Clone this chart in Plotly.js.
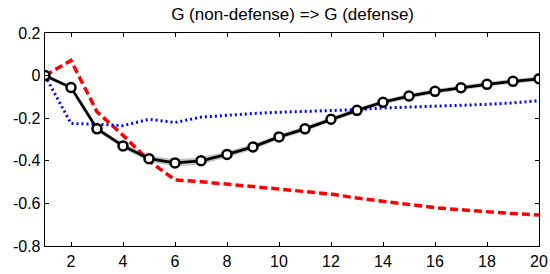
<!DOCTYPE html>
<html><head><meta charset="utf-8">
<script src="https://cdn.plot.ly/plotly-3.0.1.min.js"></script>
<style>html,body{margin:0;padding:0;background:#fff;}#chart{width:550px;height:274px;}</style>
</head><body><div id="chart"></div>
<script>
const horizon = [1,2,3,4,5,6,7,8,9,10,11,12,13,14,15,16,17,18,19,20];
const irfMedian = [0,-0.056,-0.25,-0.33,-0.39,-0.41,-0.40,-0.37,-0.335,-0.288,-0.25,-0.205,-0.163,-0.125,-0.096,-0.074,-0.057,-0.041,-0.027,-0.015];
const bandUpper = [0,-0.050,-0.240,-0.318,-0.375,-0.393,-0.383,-0.355,-0.322,-0.276,-0.238,-0.194,-0.152,-0.114,-0.085,-0.063,-0.046,-0.030,-0.016,-0.004];
const bandLower = [0,-0.062,-0.260,-0.342,-0.405,-0.427,-0.417,-0.385,-0.348,-0.300,-0.262,-0.216,-0.174,-0.136,-0.107,-0.085,-0.068,-0.052,-0.038,-0.026];
const irfRed = [0,0.071,-0.17,-0.28,-0.40,-0.49,-0.498,-0.51,-0.52,-0.533,-0.545,-0.556,-0.575,-0.59,-0.605,-0.62,-0.63,-0.64,-0.648,-0.654];
const irfBlue = [0,-0.225,-0.228,-0.235,-0.205,-0.22,-0.195,-0.186,-0.178,-0.172,-0.168,-0.164,-0.16,-0.152,-0.148,-0.144,-0.14,-0.135,-0.128,-0.118];
const xTicks = [2,4,6,8,10,12,14,16,18,20];
const yTicks = [0.2,0,-0.2,-0.4,-0.6,-0.8];
const yTickText = ['0.2','0','-0.2','-0.4','-0.6','-0.8'];
const titleText = 'G (non-defense) => G (defense)';

const traces = [
  {x: horizon, y: bandUpper, mode:'lines', line:{width:0, color:'rgba(0,0,0,0)'}, hoverinfo:'skip', showlegend:false},
  {x: horizon, y: bandLower, mode:'lines', fill:'tonexty', fillcolor:'rgba(150,150,150,0.55)', line:{width:0, color:'rgba(0,0,0,0)'}, hoverinfo:'skip', showlegend:false},
  {x: horizon, y: irfRed, mode:'lines', line:{color:'#ff0000', width:3.5, dash:'8px,4px'}, showlegend:false},
  {x: horizon, y: irfBlue, mode:'lines', line:{color:'#0000ff', width:3, dash:'2px,3px'}, showlegend:false},
  {x: horizon, y: irfMedian, mode:'lines+markers', line:{color:'#000', width:2.8},
   marker:{symbol:'circle', size:9, color:'#fff', line:{color:'#000', width:2.5}}, showlegend:false}
];
const layout = {
  width:550, height:274,
  margin:{l:45, r:11, t:33, b:28, pad:0},
  paper_bgcolor:'#fff', plot_bgcolor:'#fff',
  font:{family:'Liberation Sans, Arial, sans-serif', size:16, color:'#000'},
  title:{text:titleText, x:0.532, xanchor:'center', y:0.948, yanchor:'middle', font:{size:17, color:'#000'}},
  xaxis:{range:[1,20], tickvals:xTicks, ticks:'inside', ticklen:4, tickcolor:'#000', showline:true, linecolor:'#000', linewidth:1.3, mirror:'ticks', showgrid:false, zeroline:false, tickfont:{size:16}},
  yaxis:{range:[-0.8,0.2], tickvals:yTicks, ticktext:yTickText, ticks:'inside', ticklen:4, tickcolor:'#000', showline:true, linecolor:'#000', linewidth:1.3, mirror:'ticks', showgrid:false, zeroline:false, tickfont:{size:16}},
  showlegend:false
};
Plotly.newPlot('chart', traces, layout, {displayModeBar:false, staticPlot:true});
</script></body></html>
